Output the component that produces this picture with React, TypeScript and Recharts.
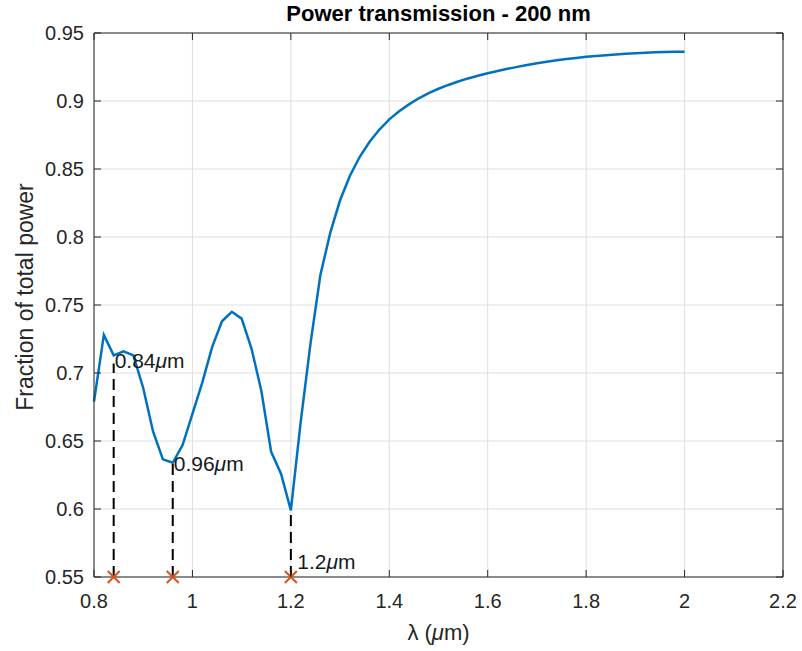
import { ComposedChart, Line, XAxis, YAxis, CartesianGrid, ReferenceLine, Scatter } from 'recharts';

const wavelength = [
  0.8, 0.82, 0.84, 0.86, 0.88, 0.9, 0.92, 0.94, 0.96, 0.98,
  1.0, 1.02, 1.04, 1.06, 1.08, 1.1, 1.12, 1.14, 1.16, 1.18,
  1.2, 1.22, 1.24, 1.26, 1.28, 1.3, 1.32, 1.34, 1.36, 1.38,
  1.4, 1.42, 1.44, 1.46, 1.48, 1.5, 1.52, 1.54, 1.56, 1.58,
  1.6, 1.62, 1.64, 1.66, 1.68, 1.7, 1.72, 1.74, 1.76, 1.78,
  1.8, 1.82, 1.84, 1.86, 1.88, 1.9, 1.92, 1.94, 1.96, 1.98, 2.0,
];
const transmission = [
  0.679, 0.728, 0.713, 0.716, 0.713, 0.689, 0.657, 0.6365, 0.634, 0.647,
  0.67, 0.693, 0.719, 0.738, 0.745, 0.74, 0.718, 0.687, 0.642, 0.626,
  0.599, 0.664, 0.722, 0.772, 0.803, 0.827, 0.845, 0.859, 0.87, 0.879,
  0.8865, 0.8925, 0.8975, 0.902, 0.9058, 0.909, 0.9118, 0.9143, 0.9166, 0.9186,
  0.9204, 0.9221, 0.9237, 0.9251, 0.9265, 0.9278, 0.9289, 0.9299, 0.9308, 0.9317,
  0.9325, 0.9331, 0.9337, 0.9342, 0.9347, 0.9351, 0.9355, 0.9358, 0.936, 0.9362, 0.9363,
];

// marked dips
const dipX = [0.84, 0.96, 1.2];
const dipTop = [0.707, 0.634, 0.5998];
const dipText = ['0.84', '0.96', '1.2'];
const textX = [0.84, 0.96, 1.211];
const textY = [0.709, 0.633, 0.561];

const xTicks = [0.8, 1, 1.2, 1.4, 1.6, 1.8, 2, 2.2];
const yTicks = [0.55, 0.6, 0.65, 0.7, 0.75, 0.8, 0.85, 0.9, 0.95];

const curve = wavelength.map((x, i) => ({ x, y: transmission[i] }));
const dips = dipX.map((x) => ({ x, y: 0.55 }));
const notes = textX.map((x, i) => ({ x, y: textY[i], text: dipText[i] }));

const INK = '#262626';
const FONT = '"Liberation Sans", Arial, Helvetica, sans-serif';
const TL = 7;

const BottomTick = ({ x, y, payload }: any) => (
  <g>
    <line x1={x} x2={x} y1={y} y2={y - TL} stroke={INK} />
    <text x={x} y={y + 31} textAnchor="middle" fontSize={20} fill={INK} fontFamily={FONT}>
      {payload.value}
    </text>
  </g>
);
const LeftTick = ({ x, y, payload }: any) => (
  <g>
    <line x1={x} x2={x + TL} y1={y} y2={y} stroke={INK} />
    <text x={x - 10} y={y} dy="0.35em" textAnchor="end" fontSize={20} fill={INK} fontFamily={FONT}>
      {payload.value}
    </text>
  </g>
);
const TopTick = ({ x, y }: any) => <line x1={x} x2={x} y1={y} y2={y + TL} stroke={INK} />;
const RightTick = ({ x, y }: any) => <line x1={x} x2={x - TL} y1={y} y2={y} stroke={INK} />;

const Title = ({ viewBox }: any) => (
  <text x={viewBox.x + viewBox.width / 2} y={viewBox.y - 11} textAnchor="middle" fontSize={22} fontWeight="bold" fill="#000" fontFamily={FONT}>
    Power transmission - 200 nm
  </text>
);
const XTitle = ({ viewBox }: any) => (
  <text x={viewBox.x + viewBox.width / 2} y={viewBox.y + 63} textAnchor="middle" fontSize={22} fill={INK} fontFamily={FONT}>
    λ (<tspan fontStyle="italic">μ</tspan>m)
  </text>
);
const YTitle = ({ viewBox }: any) => {
  const cx = 25;
  const cy = viewBox.y + viewBox.height / 2 - 8;
  return (
    <text x={cx} y={cy} dy="0.35em" textAnchor="middle" fontSize={23} fill={INK} fontFamily={FONT} transform={`rotate(-90 ${cx} ${cy})`}>
      Fraction of total power
    </text>
  );
};

const Cross = ({ cx, cy }: any) => (
  <g stroke="#D95319" strokeWidth={2}>
    <line x1={cx - 6} y1={cy - 6} x2={cx + 6} y2={cy + 6} />
    <line x1={cx - 6} y1={cy + 6} x2={cx + 6} y2={cy - 6} />
  </g>
);
const Note = ({ cx, cy, payload }: any) => (
  <text x={cx + 1} y={cy} dy="0.35em" fontSize={21} fill="#1a1a1a" fontFamily={FONT}>
    {payload.text}
    <tspan fontStyle="italic">μ</tspan>m
  </text>
);

export default function App() {
  return (
    <div style={{ position: 'absolute', left: 0, top: 0, background: '#fff' }}>
      <ComposedChart width={802} height={651} margin={{ top: 32, right: 18, bottom: 0, left: 0 }}>
        <CartesianGrid stroke="#dedede" strokeWidth={1} xAxisId="bottom" yAxisId="left" />
        <XAxis
          xAxisId="bottom"
          type="number"
          dataKey="x"
          domain={[0.8, 2.2]}
          ticks={xTicks}
          height={74}
          tickSize={0}
          tickMargin={0}
          tickLine={false}
          axisLine={{ stroke: INK }}
          tick={<BottomTick />}
          label={<XTitle />}
        />
        <XAxis
          xAxisId="top"
          orientation="top"
          type="number"
          dataKey="x"
          domain={[0.8, 2.2]}
          ticks={xTicks}
          height={1}
          tickSize={0}
          tickMargin={0}
          tickLine={false}
          axisLine={{ stroke: INK }}
          tick={<TopTick />}
          label={<Title />}
        />
        <YAxis
          yAxisId="left"
          type="number"
          domain={[0.55, 0.95]}
          ticks={yTicks}
          width={94}
          tickSize={0}
          tickMargin={0}
          tickLine={false}
          axisLine={{ stroke: INK }}
          tick={<LeftTick />}
          label={<YTitle />}
        />
        <YAxis
          yAxisId="right"
          orientation="right"
          type="number"
          domain={[0.55, 0.95]}
          ticks={yTicks}
          width={1}
          tickSize={0}
          tickMargin={0}
          tickLine={false}
          axisLine={{ stroke: INK }}
          tick={<RightTick />}
        />
        <Line
          xAxisId="top"
          yAxisId="right"
          data={curve}
          dataKey="y"
          stroke="none"
          dot={false}
          activeDot={false}
          isAnimationActive={false}
        />
        {dipX.map((x, i) => (
          <ReferenceLine
            key={x}
            xAxisId="bottom"
            yAxisId="left"
            segment={[{ x, y: 0.55 }, { x, y: dipTop[i] }]}
            stroke="#000"
            strokeWidth={2}
            strokeDasharray="11 6"
          />
        ))}
        <Line
          xAxisId="bottom"
          yAxisId="left"
          data={curve}
          dataKey="y"
          type="linear"
          stroke="#0072BD"
          strokeWidth={2.5}
          dot={false}
          activeDot={false}
          isAnimationActive={false}
        />
        <Scatter xAxisId="bottom" yAxisId="left" data={dips} dataKey="y" shape={<Cross />} isAnimationActive={false} />
        <Scatter xAxisId="bottom" yAxisId="left" data={notes} dataKey="y" shape={<Note />} isAnimationActive={false} />
      </ComposedChart>
    </div>
  );
}
